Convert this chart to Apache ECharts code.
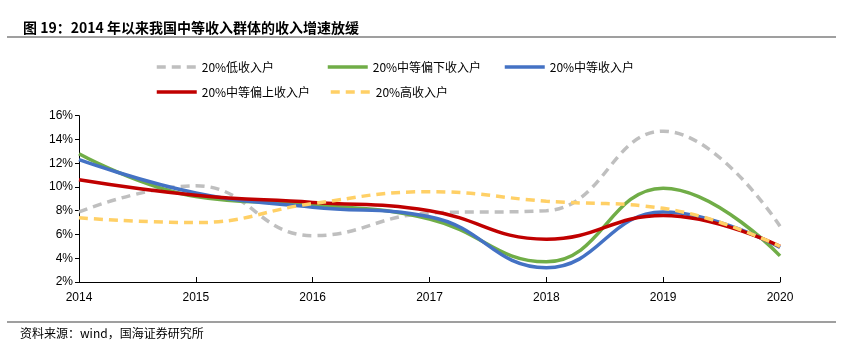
<!DOCTYPE html>
<html><head><meta charset="utf-8">
<script src="https://cdn.jsdelivr.net/npm/echarts@6/dist/echarts.min.js"></script>
<style>html,body{margin:0;padding:0;background:#fff}#c{width:849px;height:357px}</style>
</head><body><div id="c"></div>
<script>
var years = ['2014','2015','2016','2017','2018','2019','2020'];
var names = ['20%低收入户','20%中等偏下收入户','20%中等收入户','20%中等偏上收入户','20%高收入户'];
var low     = [7.9, 10.1, 5.9, 7.8, 8.0, 14.7, 6.7];
var midLow  = [12.8, 9.2, 8.5, 7.3, 3.7, 9.9, 4.2];
var mid     = [12.3, 9.5, 8.3, 7.5, 3.2, 7.9, 4.9];
var midHigh = [10.6, 9.3, 8.7, 8.0, 5.6, 7.6, 5.0];
var high    = [7.4, 7.0, 8.6, 9.6, 8.8, 8.2, 5.0];
var yTicks = ['2%','4%','6%','8%','10%','12%','14%','16%'];

var dataSets = [low, midLow, mid, midHigh, high];
var colors = ['#BFBFBF','#70AD47','#4472C4','#C00000','#FFD066'];
var dashed = [true,false,false,false,true];
var narrow = '"Liberation Sans Narrow","Arial Narrow","Liberation Sans",sans-serif';
var legendPos = [[150,56],[321,56],[498,56],[150,81],[324,81]];

var chart = echarts.init(document.getElementById('c'));
var series = [0,1,2,3,4].map(function(i){
  return {
    name: names[i], type:'line', data: dataSets[i], smooth:0.45,
    symbol:'none', z: i===4?6:(i===0?2:3+i),
    lineStyle:{color:colors[i], width:3.5, type: dashed[i]?[9,6]:'solid', cap:'butt'},
    itemStyle:{color:colors[i]}
  };
});
chart.setOption({
  animation:false,
  title:{text:'图 19：2014 年以来我国中等收入群体的收入增速放缓', left:18, top:16,
    textStyle:{fontFamily:'"Noto Sans CJK SC",sans-serif', fontSize:14, fontWeight:'bold', color:'#000'}},
  legend: legendPos.map(function(p,k){
    return {data:[names[k]], left:p[0], top:p[1], itemWidth:40, itemHeight:10, itemGap:6,
      itemStyle:{opacity:0, borderWidth:0},
      lineStyle:{width:3.5},
      textStyle:{fontFamily:'"Noto Sans CJK SC",sans-serif', fontSize:12, color:'#000'}};
  }),
  grid:{left:79, right:69, top:115.7, bottom:75},
  xAxis:{type:'category', data:years, boundaryGap:false,
    axisLine:{lineStyle:{color:'#000', width:1}},
    axisTick:{inside:true, length:5, lineStyle:{color:'#000'}},
    axisLabel:{color:'#000', fontSize:12, fontFamily:narrow, margin:10},
    splitLine:{show:false}},
  yAxis:{type:'value', min:2, max:16, interval:2,
    axisLine:{show:true, lineStyle:{color:'#000', width:1}},
    axisTick:{show:true, length:4, lineStyle:{color:'#000'}},
    axisLabel:{color:'#000', fontSize:12, fontFamily:narrow, margin:6,
      formatter:function(v){return yTicks[Math.round((v-2)/2)];}},
    splitLine:{show:false}},
  graphic:[
    {type:'line', shape:{x1:7,y1:37,x2:836,y2:37}, style:{stroke:'#7f7f7f', lineWidth:1.5}},
    {type:'line', shape:{x1:7,y1:322,x2:836,y2:322}, style:{stroke:'#7f7f7f', lineWidth:1.5}},
    {type:'text', left:20, top:327, style:{text:'资料来源：wind，国海证券研究所', fill:'#000',
      font:'12px "Noto Sans CJK SC",sans-serif'}}
  ],
  series: series
});
</script></body></html>
